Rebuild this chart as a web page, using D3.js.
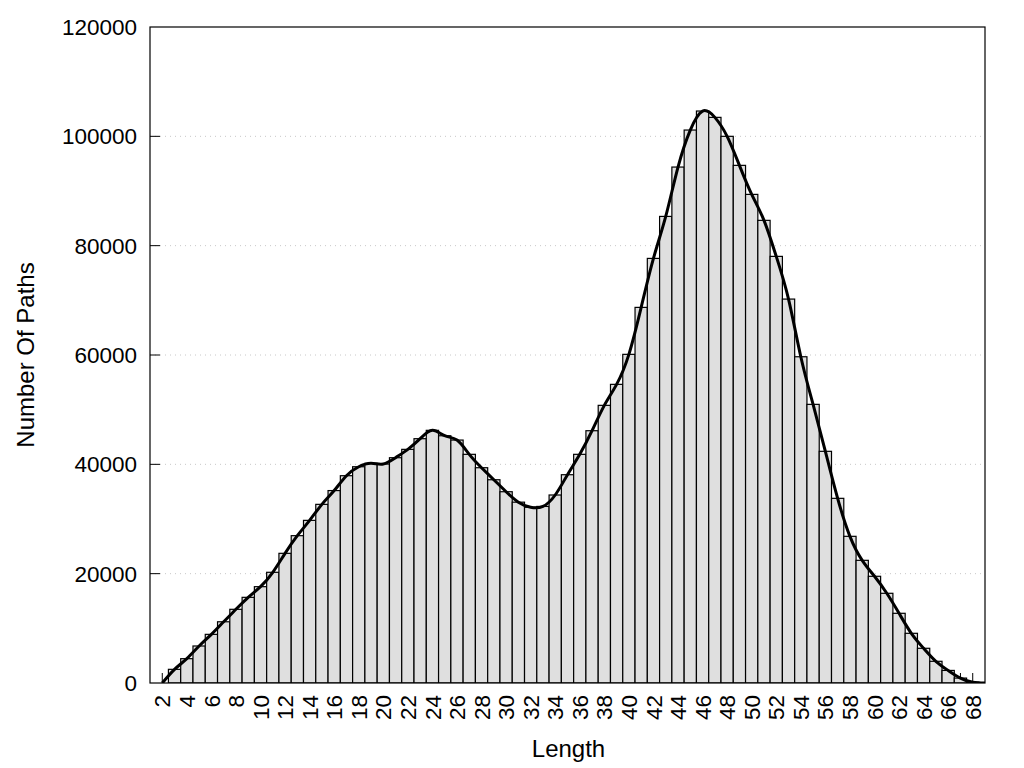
<!DOCTYPE html>
<html>
<head>
<meta charset="utf-8">
<script src="https://d3js.org/d3.v7.min.js"></script>
<style>
  body { margin: 0; background: #fff; }
  text { font-family: "Liberation Sans", Arial, sans-serif; fill: #000; }
</style>
</head>
<body>
<svg id="chart" width="1024" height="768"></svg>
<script>
// Path length histogram data
var lengths = [2, 3, 4, 5, 6, 7, 8, 9, 10, 11, 12, 13, 14, 15, 16, 17, 18, 19, 20,
  21, 22, 23, 24, 25, 26, 27, 28, 29, 30, 31, 32, 33, 34, 35, 36, 37, 38, 39, 40,
  41, 42, 43, 44, 45, 46, 47, 48, 49, 50, 51, 52, 53, 54, 55, 56, 57, 58, 59, 60,
  61, 62, 63, 64, 65, 66, 67, 68, 69];
var counts = [0, 2500, 4450, 6770, 8900, 11200, 13480, 15670, 17620, 20250,
  23720, 26950, 29750, 32680, 35200, 37920, 39560, 40180, 40050, 41210,
  42740, 44690, 46220, 45230, 44440, 41830, 39380, 37180, 34990, 33080,
  32150, 32300, 34390, 38100, 41830, 46150, 50790, 54630, 60120, 68710,
  77670, 85350, 94380, 101150, 104630, 103470, 100000, 94690, 89380, 84630,
  78040, 70230, 59680, 50970, 42380, 33780, 26830, 22440, 19520, 16410,
  12750, 9090, 6350, 3970, 2300, 900, 150, 0];
var yTicks = [0, 20000, 40000, 60000, 80000, 100000, 120000];

var data = lengths.map(function(l, i) { return {len: l, n: counts[i]}; });

var margin = {top: 27, right: 39, bottom: 85, left: 150};

var svg = d3.select("#chart"),
  width = +svg.attr("width") - margin.left - margin.right,
  height = +svg.attr("height") - margin.top - margin.bottom;

var g = svg.append("g")
  .attr("transform", "translate(" + margin.left + "," + margin.top + ")");

// Scales
var x = d3.scaleLinear().domain([1, 69]).range([0, width]);
var y = d3.scaleLinear().domain([0, 120000]).range([height, 0]);
var barW = x(2) - x(1);

g.append("clipPath").attr("id", "clip")
  .append("rect").attr("width", width).attr("height", height);

// dotted grid
g.append("g")
  .selectAll("line")
  .data(yTicks.slice(1, -1))
  .enter().append("line")
    .attr("x1", 0).attr("x2", width)
    .attr("y1", function(d) { return y(d); })
    .attr("y2", function(d) { return y(d); })
    .attr("stroke", "#c8c8c8")
    .attr("stroke-width", 1)
    .attr("stroke-dasharray", "1,4");

// x ticks, inward, drawn under the bars
g.append("g")
  .selectAll("line")
  .data(lengths.slice(0, -1))
  .enter().append("line")
    .attr("x1", function(d) { return x(d); })
    .attr("x2", function(d) { return x(d); })
    .attr("y1", height).attr("y2", height - 10)
    .attr("stroke", "#000");

// bars
g.append("g")
  .attr("clip-path", "url(#clip)")
  .selectAll("rect")
  .data(data.filter(function(d) { return d.n > 0; }))
  .enter().append("rect")
    .attr("x", function(d) { return x(d.len) - barW / 2; })
    .attr("width", barW)
    .attr("y", function(d) { return y(d.n); })
    .attr("height", function(d) { return height - y(d.n); })
    .attr("fill", "#dfdfdf")
    .attr("stroke", "#000")
    .attr("stroke-width", 1.2);

// smooth line through the counts
var line = d3.line()
  .x(function(d) { return x(d.len); })
  .y(function(d) { return y(d.n); })
  .curve(d3.curveNatural);

g.append("path")
  .datum(data)
  .attr("d", line)
  .attr("fill", "none")
  .attr("stroke", "#000")
  .attr("stroke-width", 3)
  .attr("clip-path", "url(#clip)");

// y ticks + labels
var yAxis = g.append("g");
yAxis.selectAll("line")
  .data(yTicks.slice(1, -1))
  .enter().append("line")
    .attr("x1", 0).attr("x2", 10)
    .attr("y1", function(d) { return y(d); })
    .attr("y2", function(d) { return y(d); })
    .attr("stroke", "#000");
yAxis.selectAll("text")
  .data(yTicks)
  .enter().append("text")
    .attr("x", -13)
    .attr("y", function(d) { return y(d); })
    .attr("dy", "0.36em")
    .attr("text-anchor", "end")
    .style("font-size", "22.5px")
    .text(function(d) { return d; });

// x labels every 2, rotated
g.append("g")
  .selectAll("text")
  .data(lengths.filter(function(d) { return d % 2 === 0; }))
  .enter().append("text")
    .attr("transform", function(d) {
      return "translate(" + x(d) + "," + (height + 12) + ") rotate(-90)";
    })
    .attr("dy", "0.36em")
    .attr("text-anchor", "end")
    .style("font-size", "22.5px")
    .text(function(d) { return d; });

// frame
g.append("rect")
  .attr("width", width).attr("height", height)
  .attr("fill", "none")
  .attr("stroke", "#000")
  .attr("stroke-width", 1.2);

// axis titles
svg.append("text")
  .attr("x", margin.left + width / 2 + 1)
  .attr("y", 757)
  .attr("text-anchor", "middle")
  .style("font-size", "24px")
  .text("Length");

svg.append("text")
  .attr("transform", "translate(34," + (margin.top + height / 2) + ") rotate(-90)")
  .attr("text-anchor", "middle")
  .style("font-size", "24px")
  .text("Number Of Paths");
</script>
</body>
</html>
